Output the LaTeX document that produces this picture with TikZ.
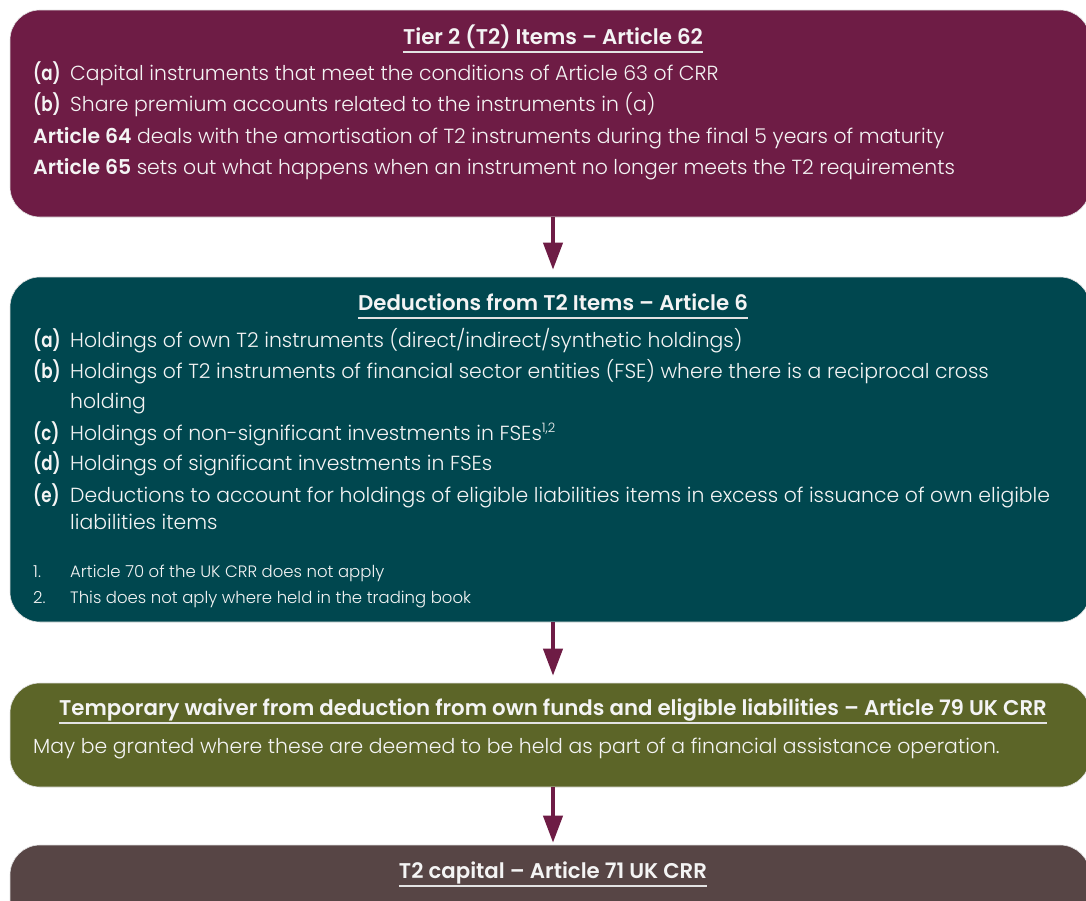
\documentclass[tikz,border=0pt]{standalone}
\usepackage{fontspec}
\usetikzlibrary{arrows.meta}
\IfFontExistsTF{Poppins Light}{\newfontfamily\bodyfont{Poppins Light}[BoldFont={Poppins SemiBold}]\def\bsz{20.4}}{\newfontfamily\bodyfont{Lato}[BoldFont={Lato Bold}]\def\bsz{23}}
\IfFontExistsTF{Poppins SemiBold}{\newfontfamily\headfont{Poppins SemiBold}}{\newfontfamily\headfont{Lato Bold}}
\definecolor{maroonc}{HTML}{6E1C45}
\definecolor{tealc}{HTML}{00474F}
\definecolor{olivec}{HTML}{5C6528}
\definecolor{brownc}{HTML}{574545}
\definecolor{txt}{HTML}{F4F4F4}
\newcommand{\lab}[1]{\scalebox{0.82}[1]{#1}}
\tikzset{
  box/.style={rounded corners=30pt, draw=black!12, line width=0.6pt, minimum width=1080pt, inner sep=0pt},
  ttl/.style={text=txt, font=\headfont\fontsize{21.3}{25}\selectfont, inner sep=0pt, anchor=base},
  body/.style={text=txt, font=\bodyfont\fontsize{\bsz}{24}\selectfont, inner sep=0pt, anchor=base west},
  lbl/.style={body, font=\bodyfont\bfseries\fontsize{\bsz}{24}\selectfont},
  fn/.style={text=txt, font=\bodyfont\fontsize{16.5}{18}\selectfont, inner sep=0pt, anchor=base west},
  uline/.style={draw=txt!85!gray, line width=1.4pt},
  arr/.style={-{Triangle[width=19pt,length=27pt]}, line width=4pt, draw=maroonc}
}
\begin{document}
\begin{tikzpicture}[x=1pt,y=-1pt]
\useasboundingbox (0,0) rectangle (1086,900);
\clip (0,0) rectangle (1086,900);
% boxes
\node[box, fill=maroonc, minimum height=207pt] (b1) at (550,113.5) {};
\node[box, fill=tealc, minimum height=345pt] (b2) at (550,449.5) {};
\node[box, fill=olivec, minimum height=104pt] (b3) at (550,735) {};
\node[box, fill=brownc, minimum height=100pt] (b4) at (550,895) {};
% box 1
\node[ttl] (t1) at (553,44) {Tier 2 (T2) Items – Article 62};
\draw[uline] ([yshift=-8pt]t1.base west) -- ([yshift=-8pt]t1.base east);
\node[lbl] (l1a) at (33,80) {\lab{(a)}};
\node[body] (x1a) at (70,80) {Capital instruments that meet the conditions of Article 63 of CRR};
\node[lbl] (l1b) at (33,111) {\lab{(b)}};
\node[body] (x1b) at (70,111) {Share premium accounts related to the instruments in (a)};
\node[body] (x1c) at (33,143) {\textbf{Article 64} deals with the amortisation of T2 instruments during the final 5 years of maturity};
\node[body] (x1d) at (33,174) {\textbf{Article 65} sets out what happens when an instrument no longer meets the T2 requirements};
% box 2
\node[ttl] (t2) at (553,310) {Deductions from T2 Items – Article 6};
\draw[uline] ([yshift=-8pt]t2.base west) -- ([yshift=-8pt]t2.base east);
\node[lbl] (l2a) at (33,347) {\lab{(a)}};
\node[body] (x2a) at (70,347) {Holdings of own T2 instruments (direct/indirect/synthetic holdings)};
\node[lbl] (l2b) at (33,378) {\lab{(b)}};
\node[body] (x2b) at (70,378) {Holdings of T2 instruments of financial sector entities (FSE) where there is a reciprocal cross};
\node[body] (x2b2) at (70,408) {holding};
\node[lbl] (l2c) at (33,440) {\lab{(c)}};
\node[body] (x2c) at (70,440) {Holdings of non-significant investments in FSEs\raisebox{8pt}{\fontsize{13}{13}\selectfont 1,2}};
\node[lbl] (l2d) at (33,470) {\lab{(d)}};
\node[body] (x2d) at (70,470) {Holdings of significant investments in FSEs};
\node[lbl] (l2e) at (33,502) {\lab{(e)}};
\node[body] (x2e) at (70,502) {Deductions to account for holdings of eligible liabilities items in excess of issuance of own eligible};
\node[body] (x2e2) at (70,529) {liabilities items};
\node[fn] (n1) at (33,577) {1.};
\node[fn] (f1) at (70,577) {Article 70 of the UK CRR does not apply};
\node[fn] (n2) at (33,603) {2.};
\node[fn] (f2) at (70,603) {This does not aply where held in the trading book};
% box 3
\node[ttl] (t3) at (553,715) {Temporary waiver from deduction from own funds and eligible liabilities – Article 79 UK CRR};
\draw[uline] ([yshift=-8pt]t3.base west) -- ([yshift=-8pt]t3.base east);
\node[body] (x3) at (33,753) {May be granted where these are deemed to be held as part of a financial assistance operation.};
% box 4
\node[ttl] (t4) at (553,878) {T2 capital – Article 71 UK CRR};
\draw[uline] ([yshift=-8pt]t4.base west) -- ([yshift=-8pt]t4.base east);
% arrows
\coordinate (ax) at (553,0);
\draw[arr] (b1.south -| ax) -- ([yshift=7pt]b2.north -| ax);
\draw[arr] (b2.south -| ax) -- ([yshift=7pt]b3.north -| ax);
\draw[arr] (b3.south -| ax) -- ([yshift=2pt]b4.north -| ax);
\end{tikzpicture}
\end{document}
